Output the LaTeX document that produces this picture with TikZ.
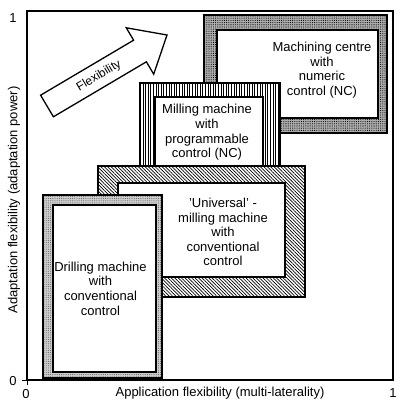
\documentclass[tikz,border=0pt]{standalone}
\usepackage{fontspec}
\setmainfont{Liberation Sans}
\usetikzlibrary{patterns,patterns.meta}
\begin{document}
\begin{tikzpicture}[x=1pt,y=-1pt,
  band/.style={draw=black, line width=1.5pt},
  innerbox/.style={draw=black, line width=1.3pt, fill=white},
  lbl/.style={align=center, font=\fontsize{13}{14.6}\selectfont, inner sep=0pt},
  axlbl/.style={font=\fontsize{13}{14.6}\selectfont, inner sep=0pt}]
\useasboundingbox (0,0) rectangle (415,412);
\fill[white] (0,0) rectangle (415,412);
% frame
\draw[line width=1.3pt] (27,11) rectangle (393,380);
\draw[line width=1pt] (22,380) -- (27,380) -- (27,385);
% Machining centre
\draw[band, preaction={fill=gray!65}, pattern={Dots[distance=2.2pt, radius=0.55pt]}, pattern color=black] (204,15) rectangle (387,133);
\draw[innerbox] (217,30) rectangle (378,118);
\node[lbl] (mc) at (322,70) {Machining centre\\with\\numeric\\control (NC)};
% Milling machine programmable
\draw[band, fill=white, postaction={pattern={Lines[angle=90, distance=2.6pt, line width=0.8pt]}}] (140,83) rectangle (280,180);
\draw[innerbox] (155,97) rectangle (263,180);
\node[lbl] (mp) at (207,132.5) {Milling machine\\with\\programmable\\control (NC)};
% Universal milling machine
\draw[band, fill=white, postaction={pattern={Lines[angle=-45, distance=2.4pt, line width=0.7pt]}}] (98,166) rectangle (305,297);
\draw[innerbox] (118,183) rectangle (285,277);
\node[lbl] (um) at (223,232) {'Universal' -\\milling machine\\with\\conventional\\control};
% Drilling machine
\draw[band, preaction={fill=gray!40}, pattern={Dots[distance=2.2pt, radius=0.5pt]}, pattern color=gray!70!black] (43,195) rectangle (162,378);
\draw[innerbox] (53,205) rectangle (156,372);
\node[lbl] (dm) at (100.5,288.5) {Drilling machine\\with\\conventional\\control};
% Flexibility arrow
\draw[line width=1.3pt, fill=white] (40.6,95.2) -- (133.6,40.2) -- (126.3,27.8) -- (167,35) -- (153.7,74.2) -- (146.4,61.8) -- (53.4,116.8) -- cycle;
\node[font=\fontsize{12}{14}\selectfont, rotate=30.6, inner sep=0pt] (flex) at (99,76) {Flexibility};
% axis labels
\node[axlbl] (y1) at (13,18) {1};
\node[axlbl] (y0) at (13,381) {0};
\node[axlbl] (x0) at (26,394) {0};
\node[axlbl] (x1) at (393,393) {1};
\node[axlbl] (xl) at (220,393) {Application flexibility (multi-laterality)};
\node[axlbl, rotate=90] (yl) at (14,200) {Adaptation flexibility (adaptation power)};
\end{tikzpicture}
\end{document}
